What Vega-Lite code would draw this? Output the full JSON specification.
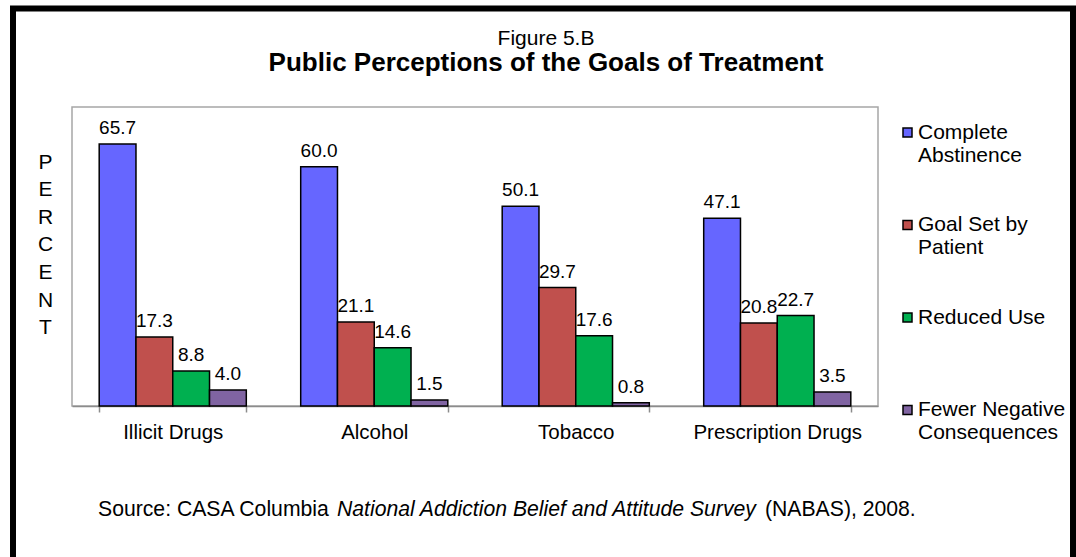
{
  "$schema": "https://vega.github.io/schema/vega-lite/v6.json",
  "width": 806,
  "height": 299,
  "autosize": {"type": "none"},
  "padding": {"left": 72, "top": 107, "right": 198, "bottom": 151},
  "background": "white",
  "config": {
    "font": "Liberation Sans",
    "view": {"stroke": "#a6a6a6", "strokeWidth": 1.5}
  },
  "title": {
    "text": "Figure 5.B",
    "subtitle": "Public Perceptions of the Goals of Treatment",
    "fontSize": 21,
    "fontWeight": "normal",
    "color": "black",
    "subtitleFontSize": 26,
    "subtitleFontWeight": "bold",
    "subtitleColor": "black",
    "font": "Liberation Sans",
    "subtitleFont": "Liberation Sans",
    "anchor": "middle",
    "frame": "group",
    "dx": 71,
    "offset": -70,
    "subtitlePadding": 0.5
  },
  "data": {
    "values": [
      {"drug": "Illicit Drugs", "goal": "Complete Abstinence", "pct": 65.7},
      {"drug": "Illicit Drugs", "goal": "Goal Set by Patient", "pct": 17.3},
      {"drug": "Illicit Drugs", "goal": "Reduced Use", "pct": 8.8},
      {"drug": "Illicit Drugs", "goal": "Fewer Negative Consequences", "pct": 4.0},
      {"drug": "Alcohol", "goal": "Complete Abstinence", "pct": 60.0},
      {"drug": "Alcohol", "goal": "Goal Set by Patient", "pct": 21.1},
      {"drug": "Alcohol", "goal": "Reduced Use", "pct": 14.6},
      {"drug": "Alcohol", "goal": "Fewer Negative Consequences", "pct": 1.5},
      {"drug": "Tobacco", "goal": "Complete Abstinence", "pct": 50.1},
      {"drug": "Tobacco", "goal": "Goal Set by Patient", "pct": 29.7},
      {"drug": "Tobacco", "goal": "Reduced Use", "pct": 17.6},
      {"drug": "Tobacco", "goal": "Fewer Negative Consequences", "pct": 0.8},
      {"drug": "Prescription Drugs", "goal": "Complete Abstinence", "pct": 47.1},
      {"drug": "Prescription Drugs", "goal": "Goal Set by Patient", "pct": 20.8},
      {"drug": "Prescription Drugs", "goal": "Reduced Use", "pct": 22.7},
      {"drug": "Prescription Drugs", "goal": "Fewer Negative Consequences", "pct": 3.5}
    ]
  },
  "layer": [
    {
      "encoding": {
        "x": {
          "field": "drug",
          "type": "nominal",
          "sort": ["Illicit Drugs", "Alcohol", "Tobacco", "Prescription Drugs"],
          "scale": {"paddingInner": 0.27, "paddingOuter": 0.135},
          "axis": {
            "title": null,
            "labelAngle": 0,
            "labelFontSize": 20.5,
            "labelColor": "black",
            "labelPadding": 10,
            "tickBand": "extent",
            "tickSize": 6,
            "tickColor": "#8c8c8c",
            "domainColor": "#8c8c8c",
            "domainWidth": 1.5,
            "tickWidth": 1.5
          }
        },
        "xOffset": {
          "field": "goal",
          "type": "nominal",
          "sort": ["Complete Abstinence", "Goal Set by Patient", "Reduced Use", "Fewer Negative Consequences"],
          "scale": {"range": [0, 147.1], "paddingInner": 0, "paddingOuter": 0}
        },
        "y": {
          "field": "pct",
          "type": "quantitative",
          "scale": {"domain": [0, 75], "nice": false},
          "axis": {
            "title": ["P", "E", "R", "C", "E", "N", "T"],
            "titleAngle": 0,
            "titleAlign": "center",
            "titleBaseline": "top",
            "titleX": -27,
            "titleY": 44,
            "titleFontSize": 21,
            "titleFontWeight": "normal",
            "titleColor": "black",
            "titleLineHeight": 27.6,
            "labels": false,
            "ticks": false,
            "domain": false,
            "grid": false
          }
        }
      },
      "layer": [
        {
          "mark": {"type": "bar", "stroke": "black", "strokeWidth": 1.5},
          "encoding": {
            "color": {
              "field": "goal",
              "type": "nominal",
              "sort": ["Complete Abstinence", "Goal Set by Patient", "Reduced Use", "Fewer Negative Consequences"],
              "scale": {
                "domain": ["Complete Abstinence", "Goal Set by Patient", "Reduced Use", "Fewer Negative Consequences"],
                "range": ["#6666ff", "#c0504d", "#00b050", "#8064a2"]
              },
              "legend": {
                "title": null,
                "orient": "none",
                "legendX": 825,
                "legendY": 15,
                "padding": 0,
                "symbolType": "square",
                "symbolSize": 81,
                "symbolStrokeColor": "black",
                "symbolStrokeWidth": 1.5,
                "labelFontSize": 21,
                "labelColor": "black",
                "labelOffset": 0,
                "labelLimit": 300,
                "labelBaseline": "middle",
                "labelLineHeight": 24,
                "rowPadding": 47.5,
                "labelExpr": "datum.label == 'Complete Abstinence' ? ['Complete', 'Abstinence'] : datum.label == 'Goal Set by Patient' ? ['Goal Set by', 'Patient'] : datum.label == 'Fewer Negative Consequences' ? ['Fewer Negative', 'Consequences'] : [datum.label, '']"
              }
            }
          }
        },
        {
          "mark": {"type": "text", "baseline": "alphabetic", "align": "center", "dy": -10, "fontSize": 19, "color": "black"},
          "encoding": {
            "text": {"field": "pct", "type": "quantitative", "format": ".1f"}
          }
        }
      ]
    },
    {
      "data": {"values": [{}]},
      "mark": {"type": "text", "text": "Source: CASA Columbia", "align": "left", "baseline": "alphabetic", "fontSize": 21.2, "color": "black"},
      "encoding": {"x": {"value": 26}, "y": {"value": 409}}
    },
    {
      "data": {"values": [{}]},
      "mark": {"type": "text", "text": "National Addiction Belief and Attitude Survey", "align": "left", "baseline": "alphabetic", "fontSize": 21.2, "fontStyle": "italic", "color": "black"},
      "encoding": {"x": {"value": 265}, "y": {"value": 409}}
    },
    {
      "data": {"values": [{}]},
      "mark": {"type": "text", "text": "(NABAS), 2008.", "align": "left", "baseline": "alphabetic", "fontSize": 21.2, "color": "black"},
      "encoding": {"x": {"value": 693}, "y": {"value": 409}}
    },
    {
      "data": {"values": [{}]},
      "mark": {"type": "rect", "fill": null, "fillOpacity": 0, "stroke": "black", "strokeWidth": 6, "clip": false},
      "encoding": {"x": {"value": -59}, "x2": {"value": 1001}, "y": {"value": -98.5}, "y2": {"value": 500}}
    }
  ]
}
